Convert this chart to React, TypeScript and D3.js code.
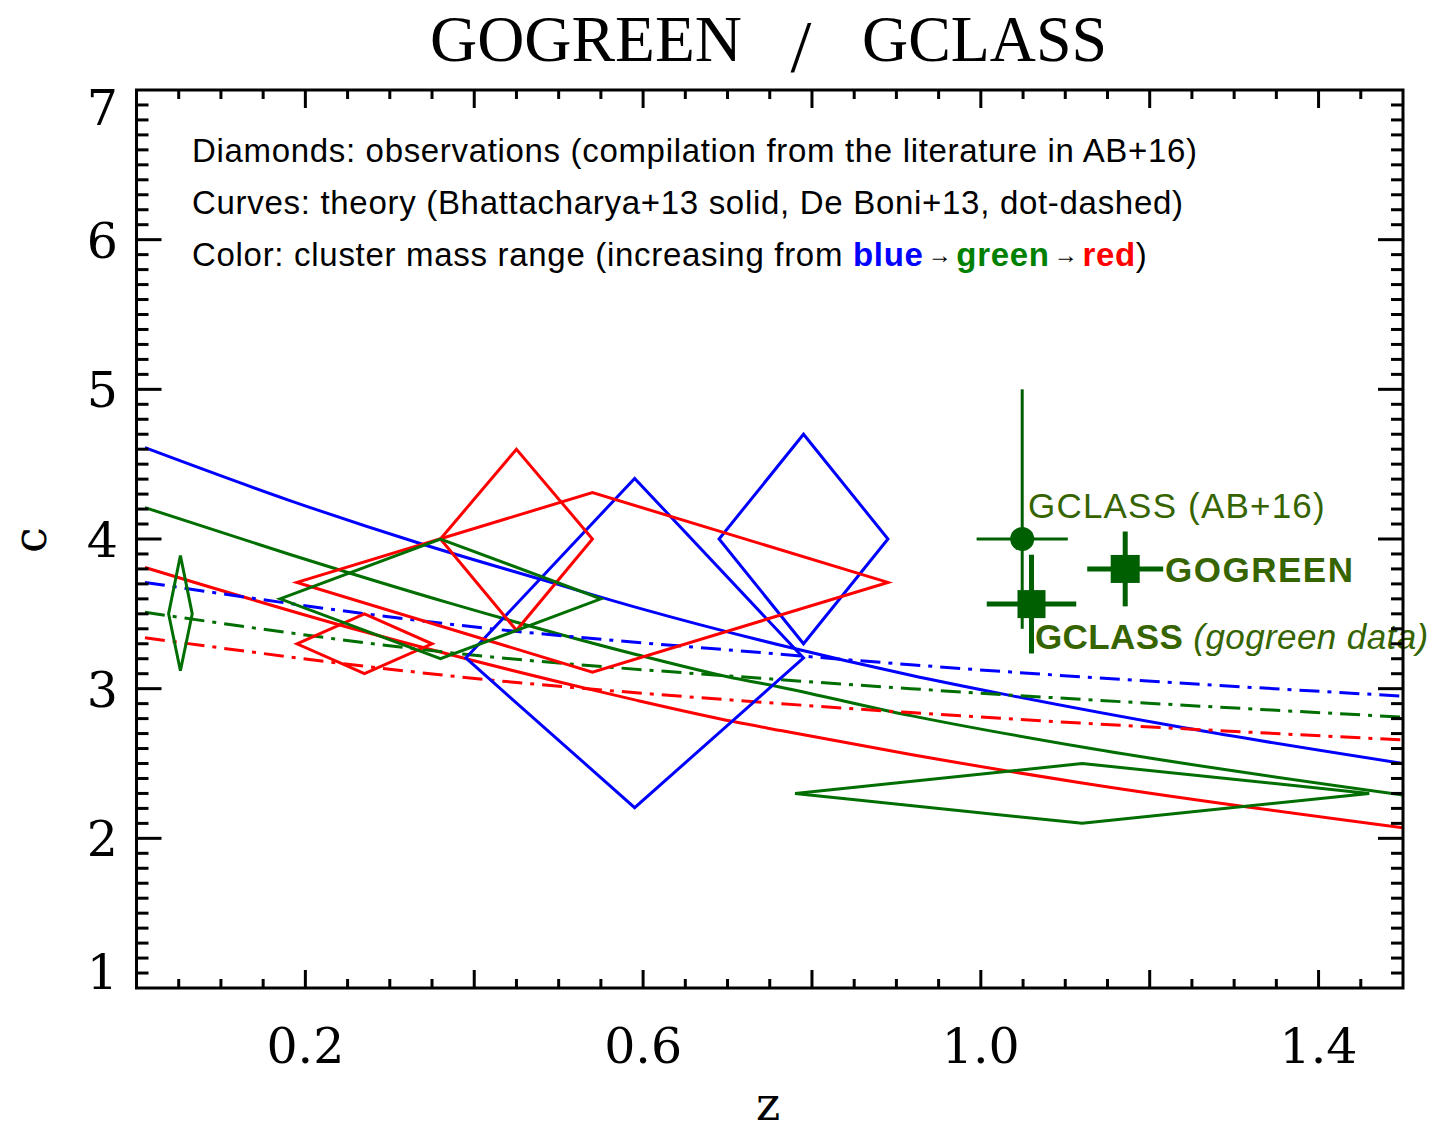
import React from 'react';
import * as d3 from 'd3';

const W = 1429, H = 1132;
const X0 = 136.5, X1 = 1403, Y0 = 90, Y1 = 988;

// ---- data ----
const xMajorTicks = [0.2, 0.4, 0.6, 0.8, 1.0, 1.2, 1.4];
const xLabelValues = [0.2, 0.6, 1.0, 1.4];
const xLabelTexts = ['0.2', '0.6', '1.0', '1.4'];
const yLabelValues = [1, 2, 3, 4, 5, 6, 7];
const yLabelTexts = ['1', '2', '3', '4', '5', '6', '7'];

// Bhattacharya+13 (solid)
const blueSolidZ = [0.01, 0.18, 0.336, 0.479, 0.594, 0.763, 0.917, 1.03, 1.239, 1.5];
const blueSolidC = [4.61, 4.26, 3.97, 3.73, 3.54, 3.29, 3.09, 2.96, 2.74, 2.50];
const greenSolidZ = [0.01, 0.18, 0.372, 0.594, 0.70, 0.763, 0.917, 1.12, 1.5];
const greenSolidC = [4.21, 3.90, 3.57, 3.225, 3.08, 3.01, 2.82, 2.61, 2.29];
const redSolidZ = [0.01, 0.27, 0.541, 0.594, 0.707, 0.763, 0.917, 1.12, 1.5];
const redSolidC = [3.81, 3.38, 2.99, 2.92, 2.78, 2.72, 2.56, 2.37, 2.07];
// De Boni+13 (dot-dashed)
const blueDashZ = [0.01, 0.372, 0.763, 0.917, 1.5];
const blueDashC = [3.71, 3.43, 3.23, 3.16, 2.95];
const greenDashZ = [0.01, 0.372, 0.763, 0.917, 1.5];
const greenDashC = [3.51, 3.24, 3.06, 3.0, 2.81];
const redDashZ = [0.01, 0.372, 0.763, 0.917, 1.5];
const redDashC = [3.34, 3.085, 2.90, 2.84, 2.657];

// Diamonds: observations
const diamondZ = [0.59, 0.79, 0.54, 0.45, 0.27, 0.052, 0.36, 1.12];
const diamondC = [3.205, 4.0, 3.71, 4.0, 3.30, 3.5, 3.6, 2.30];
const diamondDZ = [0.2, 0.1, 0.35, 0.09, 0.08, 0.014, 0.19, 0.34];
const diamondUp = [1.2, 0.7, 0.6, 0.6, 0.2, 0.39, 0.4, 0.2];
const diamondDown = [1.0, 0.7, 0.6, 0.61, 0.2, 0.38, 0.4, 0.2];
const diamondColor = ['blue', 'blue', 'red', 'red', 'red', 'green', 'green', 'green'];

// GCLASS / GOGREEN points
const gclassAbZ = 1.049, gclassAbC = 4.0, gclassAbDZ = 0.054, gclassAbUp = 1.0, gclassAbDown = 0.6;
const gclassGgZ = 1.06, gclassGgC = 3.565, gclassGgDZ = 0.053, gclassGgUp = 0.33, gclassGgDown = 0.33;
const gogreenZ = 1.171, gogreenC = 3.80, gogreenDZ = 0.045, gogreenUp = 0.25, gogreenDown = 0.25;

const COLORS: Record<string, string> = { blue: '#0000ff', green: '#006e00', red: '#ff0000' };
const MARK = '#005f00';
const LABEL = '#356400';

export default function App() {
  const x = d3.scaleLinear().domain([0, 1.5]).range([X0, X1]);
  const y = d3.scaleLinear().domain([1, 7]).range([Y1, Y0]);
  const line = d3.line<[number, number]>().x(d => x(d[0])).y(d => y(d[1])).curve(d3.curveMonotoneX);
  const mk = (zs: number[], cs: number[]) => line(zs.map((z, i) => [z, cs[i]] as [number, number])) || '';

  const xMinor = d3.range(1, 30).map(i => i * 0.05).filter(v => !xMajorTicks.some(m => Math.abs(m - v) < 1e-6));
  const yMinor = d3.range(1, 60).map(i => 1 + i * 0.1).filter(v => Math.abs(v - Math.round(v)) > 1e-6);
  const yMajor = [2, 3, 4, 5, 6];

  const dd = '20,8,4,8';
  const curves = [
    { z: blueSolidZ, c: blueSolidC, col: 'blue', dash: undefined },
    { z: greenSolidZ, c: greenSolidC, col: 'green', dash: undefined },
    { z: redSolidZ, c: redSolidC, col: 'red', dash: undefined },
    { z: blueDashZ, c: blueDashC, col: 'blue', dash: dd },
    { z: greenDashZ, c: greenDashC, col: 'green', dash: dd },
    { z: redDashZ, c: redDashC, col: 'red', dash: dd },
  ];

  const sans = 'Liberation Sans, Arial, sans-serif';
  const serif = 'DejaVu Serif, serif';
  const tserif = 'Liberation Serif, serif';

  return (
    <div style={{ position: 'absolute', left: 0, top: 0 }}>
      <svg width={W} height={H} xmlns="http://www.w3.org/2000/svg" style={{ display: 'block', background: '#fff' }}>
        <rect x={0} y={0} width={W} height={H} fill="#fff" />
        {/* title */}
        <g fontFamily={tserif} fontSize={66} fill="#000">
          <text x={430} y={61} textLength={312} lengthAdjust="spacingAndGlyphs">GOGREEN</text>
          <text x={801} y={72} textAnchor="middle" fontSize={75}>/</text>
          <text x={862} y={61} textLength={245} lengthAdjust="spacingAndGlyphs">GCLASS</text>
        </g>

        <defs>
          <clipPath id="plotclip"><rect x={X0} y={Y0} width={X1 - X0} height={Y1 - Y0} /></clipPath>
        </defs>

        <g clipPath="url(#plotclip)">
          {curves.map((cv, i) => (
            <path key={'c' + i} d={mk(cv.z, cv.c)} fill="none" stroke={COLORS[cv.col]} strokeWidth={3}
              strokeDasharray={cv.dash} />
          ))}
          {diamondZ.map((z, i) => {
            const pts = [
              [x(z - diamondDZ[i]), y(diamondC[i])],
              [x(z), y(diamondC[i] + diamondUp[i])],
              [x(z + diamondDZ[i]), y(diamondC[i])],
              [x(z), y(diamondC[i] - diamondDown[i])],
            ];
            return <polygon key={'d' + i} points={pts.map(p => p.join(',')).join(' ')} fill="none"
              stroke={COLORS[diamondColor[i]]} strokeWidth={3} strokeLinejoin="miter" />;
          })}

          {/* GCLASS AB+16 */}
          <line x1={x(gclassAbZ)} x2={x(gclassAbZ)} y1={y(gclassAbC + gclassAbUp)} y2={y(gclassAbC - gclassAbDown)} stroke={MARK} strokeWidth={3} />
          <line x1={x(gclassAbZ - gclassAbDZ)} x2={x(gclassAbZ + gclassAbDZ)} y1={y(gclassAbC)} y2={y(gclassAbC)} stroke={MARK} strokeWidth={3} />
          <circle cx={x(gclassAbZ)} cy={y(gclassAbC)} r={12} fill={MARK} />

          {/* GCLASS gogreen data */}
          <line x1={x(gclassGgZ)} x2={x(gclassGgZ)} y1={y(gclassGgC + gclassGgUp)} y2={y(gclassGgC - gclassGgDown)} stroke={MARK} strokeWidth={5} />
          <line x1={x(gclassGgZ - gclassGgDZ)} x2={x(gclassGgZ + gclassGgDZ)} y1={y(gclassGgC)} y2={y(gclassGgC)} stroke={MARK} strokeWidth={5} />
          <rect x={x(gclassGgZ) - 14} y={y(gclassGgC) - 14} width={28} height={28} fill={MARK} />

          {/* GOGREEN */}
          <line x1={x(gogreenZ)} x2={x(gogreenZ)} y1={y(gogreenC + gogreenUp)} y2={y(gogreenC - gogreenDown)} stroke={MARK} strokeWidth={5} />
          <line x1={x(gogreenZ - gogreenDZ)} x2={x(gogreenZ + gogreenDZ)} y1={y(gogreenC)} y2={y(gogreenC)} stroke={MARK} strokeWidth={5} />
          <rect x={x(gogreenZ) - 14.5} y={y(gogreenC) - 14} width={29} height={28} fill={MARK} />
        </g>

        {/* point labels */}
        <text x={1028} y={518} fontFamily={sans} fontSize={35} letterSpacing={1.2} fill={LABEL}>GCLASS (AB+16)</text>
        <text x={1165} y={582} fontFamily={sans} fontSize={35} letterSpacing={1.5} fontWeight="bold" fill={LABEL}>GOGREEN</text>
        <text x={1035} y={649} fontFamily={sans} fontSize={35} letterSpacing={0.4} fill={LABEL}>
          <tspan fontWeight="bold">GCLASS</tspan>
          <tspan fontStyle="italic"> (gogreen data)</tspan>
        </text>

        {/* annotation text */}
        <g fontFamily={sans} fontSize={33} fill="#000">
          <text x={192} y={162} textLength={1005} lengthAdjust="spacing">Diamonds: observations (compilation from the literature in AB+16)</text>
          <text x={192} y={214} textLength={991} lengthAdjust="spacing">Curves: theory (Bhattacharya+13 solid, De Boni+13, dot-dashed)</text>
          <text x={192} y={266} letterSpacing={0.7}>
            <tspan>Color: cluster mass range (increasing from </tspan>
            <tspan fontWeight="bold" fill="#0000ff">blue</tspan>
            <tspan fontSize={24} dx={4} dy={-3}>→</tspan>
            <tspan fontWeight="bold" fill="#008000" dx={4} dy={3}>green</tspan>
            <tspan fontSize={24} dx={4} dy={-3}>→</tspan>
            <tspan fontWeight="bold" fill="#ff0000" dx={4} dy={3}>red</tspan>
            <tspan>)</tspan>
          </text>
        </g>

        {/* axes box */}
        <rect x={X0} y={Y0} width={X1 - X0} height={Y1 - Y0} fill="none" stroke="#000" strokeWidth={3} />

        {/* ticks */}
        <g stroke="#000" strokeWidth={3}>
          {xMajorTicks.map(v => (
            <g key={'xm' + v}>
              <line x1={x(v)} x2={x(v)} y1={Y1} y2={Y1 - 18} />
              <line x1={x(v)} x2={x(v)} y1={Y0} y2={Y0 + 18} />
            </g>
          ))}
          {xMinor.map(v => (
            <g key={'xn' + v}>
              <line x1={x(v)} x2={x(v)} y1={Y1} y2={Y1 - 9} />
              <line x1={x(v)} x2={x(v)} y1={Y0} y2={Y0 + 9} />
            </g>
          ))}
          {yMajor.map(v => (
            <g key={'ym' + v}>
              <line x1={X0} x2={X0 + 25} y1={y(v)} y2={y(v)} />
              <line x1={X1} x2={X1 - 25} y1={y(v)} y2={y(v)} />
            </g>
          ))}
          {yMinor.map(v => (
            <g key={'yn' + v}>
              <line x1={X0} x2={X0 + 12} y1={y(v)} y2={y(v)} />
              <line x1={X1} x2={X1 - 12} y1={y(v)} y2={y(v)} />
            </g>
          ))}
        </g>

        {/* tick labels */}
        <g fontFamily={serif} fontSize={49} fill="#000">
          {xLabelValues.map((v, i) => (
            <text key={'xl' + v} x={x(v)} y={1063} textAnchor="middle">{xLabelTexts[i]}</text>
          ))}
          {yLabelValues.map((v, i) => {
            const shift = v === 7 ? 17 : v === 1 ? -17 : 0;
            return <text key={'yl' + v} x={118} y={y(v) + shift + 18} textAnchor="end">{yLabelTexts[i]}</text>;
          })}
        </g>

        {/* axis titles */}
        <text x={768} y={1120} textAnchor="middle" fontFamily={serif} fontSize={46} fill="#000">z</text>
        <text transform="translate(46,540) rotate(-90)" textAnchor="middle" fontFamily={serif} fontSize={46} fill="#000">c</text>
      </svg>
    </div>
  );
}
